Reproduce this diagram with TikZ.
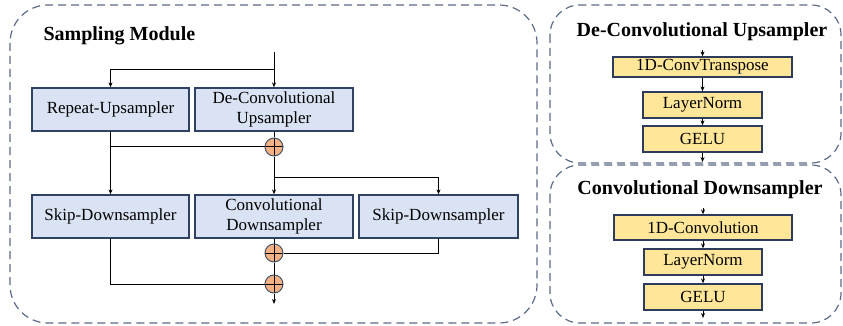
\documentclass[tikz,border=0pt]{standalone}
\usepackage{fontspec}
\setmainfont{Liberation Serif}
\usetikzlibrary{arrows.meta,calc}
\definecolor{bfill}{HTML}{DAE3F3}
\definecolor{bdraw}{HTML}{2F4263}
\definecolor{yfill}{HTML}{FFE699}
\definecolor{ydraw}{HTML}{2F3B5A}
\definecolor{ofill}{HTML}{F4B183}
\definecolor{odraw}{HTML}{44546A}
\definecolor{dashc}{HTML}{5B6A85}
\tikzset{
  bluebox/.style={draw=bdraw,fill=bfill,line width=1.3pt,inner sep=0pt,align=center,
     font=\fontsize{17}{20}\selectfont},
  yelbox/.style={draw=ydraw,fill=yfill,line width=1.3pt,inner sep=0pt,align=center,
     font=\fontsize{17}{20}\selectfont},
  plus/.style={circle,draw=odraw,fill=ofill,line width=1pt,minimum size=18pt,inner sep=0pt,
     path picture={\draw[black,line width=1pt] (path picture bounding box.north) -- (path picture bounding box.south)
       (path picture bounding box.west) -- (path picture bounding box.east);}},
  conn/.style={black,line width=1pt},
  arr/.style={conn,-{Stealth[length=5pt,width=4pt]}},
  panel/.style={draw=dashc,line width=1.2pt,dash pattern=on 8pt off 5pt,rounded corners=38pt},
  paneltitle/.style={font=\fontsize{20}{24}\selectfont\bfseries}
}
\begin{document}
\begin{tikzpicture}[x=1pt,y=-1pt]
\useasboundingbox (0,0) rectangle (843,326);
% panels
\draw[panel] (10,5) rectangle (537,323);
\draw[panel,rounded corners=30pt] (550,5) rectangle (841,163);
\draw[panel,rounded corners=30pt] (550,165) rectangle (841,323);
\node[paneltitle,anchor=west] (t1) at (40,36) {Sampling Module};
\node[paneltitle] (t2) at (702,32) {De-Convolutional Upsampler};
\node[paneltitle] (t3) at (700,190) {Convolutional Downsampler};
% left panel nodes
\node[bluebox,minimum width=157pt,minimum height=43pt] (rep) at (110.5,109.5) {Repeat-Upsampler};
\node[bluebox,minimum width=158pt,minimum height=43pt] (dc) at (274,109.5) {De-Convolutional\\Upsampler};
\node[bluebox,minimum width=157pt,minimum height=43pt] (skl) at (110.5,216.5) {Skip-Downsampler};
\node[bluebox,minimum width=158pt,minimum height=43pt] (cd) at (274,216.5) {Convolutional\\Downsampler};
\node[bluebox,minimum width=159pt,minimum height=43pt] (skr) at (438.5,216.5) {Skip-Downsampler};
\node[plus] (c1) at (274,147) {};
\node[plus] (c2) at (274,253) {};
\node[plus] (c3) at (274,284) {};
\coordinate (in) at (274,52);
\coordinate (out) at (274,304);
% left connectors
\draw[arr] (in) -- (dc.north);
\draw[arr] ($(in)+(0,18)$) -| (rep.north);
\draw[conn] (rep.south) |- (c1.west);
\draw[arr] (rep.south) -- (skl.north);
\draw[conn] (dc.south) -- (c1.north);
\draw[arr] (c1.south) -- (cd.north);
\draw[arr] ($(c1.south)+(0,21)$) -| (skr.north);
\draw[conn] (cd.south) -- (c2.north);
\draw[conn] (skr.south) |- (c2.east);
\draw[conn] (c2.south) -- (c3.north);
\draw[conn] (skl.south) |- (c3.west);
\draw[arr] (c3.south) -- (out);
% right top panel
\node[yelbox,minimum width=179pt,minimum height=20pt] (u1) at (702.5,67) {1D-ConvTranspose};
\node[yelbox,minimum width=119pt,minimum height=26pt] (u2) at (702.5,105) {LayerNorm};
\node[yelbox,minimum width=119pt,minimum height=26pt] (u3) at (702.5,139) {GELU};
\coordinate (uin) at (702.5,50);
\coordinate (uout) at (702.5,162);
\draw[arr] (uin) -- (u1.north);
\draw[arr] (u1.south) -- (u2.north);
\draw[arr] (u2.south) -- (u3.north);
\draw[arr] (u3.south) -- (uout);
% right bottom panel
\node[yelbox,minimum width=178pt,minimum height=25pt] (d1) at (703,227.5) {1D-Convolution};
\node[yelbox,minimum width=118pt,minimum height=26pt] (d2) at (703,262) {LayerNorm};
\node[yelbox,minimum width=118pt,minimum height=26pt] (d3) at (703,297) {GELU};
\coordinate (din) at (703,208);
\coordinate (dout) at (703,318);
\draw[arr] (din) -- (d1.north);
\draw[arr] (d1.south) -- (d2.north);
\draw[arr] (d2.south) -- (d3.north);
\draw[arr] (d3.south) -- (dout);
\end{tikzpicture}
\end{document}
